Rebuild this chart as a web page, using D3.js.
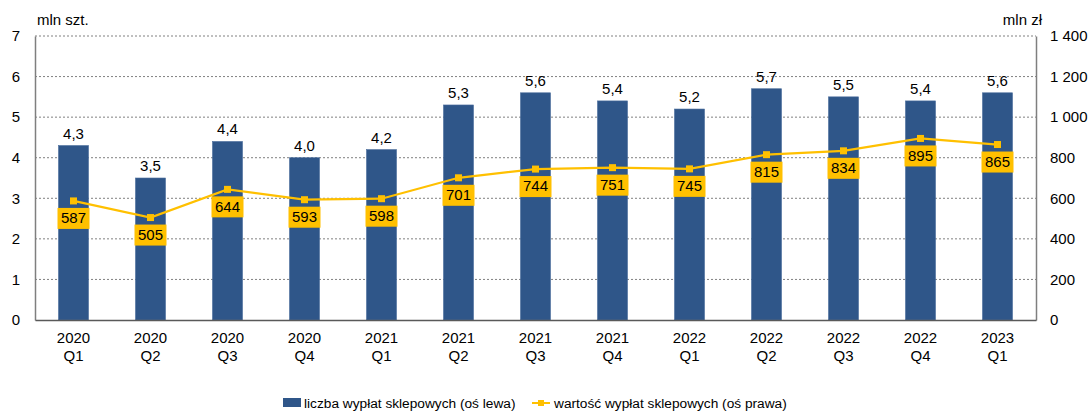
<!DOCTYPE html>
<html><head><meta charset="utf-8">
<script src="https://cdn.jsdelivr.net/npm/d3@7"></script>
<style>body{margin:0;background:#fff;}text{font-family:"Liberation Sans",Arial,sans-serif;fill:#000;}</style>
</head><body><svg id="c" width="1092" height="412"></svg>
<script>
const years = ["2020","2020","2020","2020","2021","2021","2021","2021","2022","2022","2022","2022","2023"];
const quarters = ["Q1","Q2","Q3","Q4","Q1","Q2","Q3","Q4","Q1","Q2","Q3","Q4","Q1"];
const countValues = [4.3,3.5,4.4,4.0,4.2,5.3,5.6,5.4,5.2,5.7,5.5,5.4,5.6];
const amountValues = [587,505,644,593,598,701,744,751,745,815,834,895,865];
const leftTicks = [0,1,2,3,4,5,6,7];
const rightTicks = [0,200,400,600,800,1000,1200,1400];
const legendLabels = ["liczba wypłat sklepowych (oś lewa)","wartość wypłat sklepowych (oś prawa)"];

const svg = d3.select("#c");
const L = 35, R = 1036, T = 36, B = 320;
const cats = years.map((y,i)=>i);
const x = d3.scaleBand().domain(cats).range([L,R]).paddingInner(0.61).paddingOuter(0.305);
const yL = d3.scaleLinear().domain([0,7]).range([B,T]);
const yR = d3.scaleLinear().domain([0,1400]).range([B,T]);
const blue = "#2f5689", yellow = "#ffc000";
const fmtComma = d => d.toFixed(1).replace(".",",");
const fmtSpace = d => d3.format(",")(d).replace(/,/g," ");
const FS = "15px";

// grid
svg.append("g").selectAll("line").data(leftTicks.filter(d=>d>0)).join("line")
  .attr("x1",L).attr("x2",R).attr("y1",d=>yL(d)).attr("y2",d=>yL(d))
  .attr("stroke","#808080").attr("stroke-width",1).attr("stroke-dasharray","2,2");

// left axis
const gl = svg.append("g").attr("transform",`translate(${L},0)`)
  .call(d3.axisLeft(yL).tickValues(leftTicks).tickSize(0).tickPadding(15).tickFormat(d=>d));
gl.select(".domain").attr("stroke","#7f7f7f").attr("stroke-width",1.5);
gl.selectAll("text").style("font-size",FS).attr("font-family",null);

const gr = svg.append("g").attr("transform",`translate(${R},0)`)
  .call(d3.axisRight(yR).tickValues(rightTicks).tickSize(0).tickPadding(14).tickFormat(fmtSpace));
gr.select(".domain").attr("stroke","#7f7f7f").attr("stroke-width",1.5);
gr.selectAll("text").style("font-size",FS).attr("font-family",null);

// bars
svg.append("g").selectAll("rect").data(countValues).join("rect")
  .attr("x",(d,i)=>x(i)).attr("width",x.bandwidth())
  .attr("y",d=>yL(d)).attr("height",d=>B-yL(d))
  .attr("fill",blue).attr("stroke","#4a6d9c").attr("stroke-width",0.6);

// bottom axis
const gb = svg.append("g").attr("transform",`translate(0,${B})`)
  .call(d3.axisBottom(x).tickSize(0).tickFormat(""));
gb.select(".domain").attr("stroke","#595959").attr("stroke-width",1.5);
const xl = svg.append("g").selectAll("text").data(cats).join("text")
  .attr("x",i=>x(i)+x.bandwidth()/2).attr("text-anchor","middle").style("font-size",FS);
xl.append("tspan").attr("x",i=>x(i)+x.bandwidth()/2).attr("y",343).text(i=>years[i]);
xl.append("tspan").attr("x",i=>x(i)+x.bandwidth()/2).attr("y",361).text(i=>quarters[i]);

// bar labels
svg.append("g").selectAll("text").data(countValues).join("text")
  .attr("x",(d,i)=>x(i)+x.bandwidth()/2).attr("y",d=>yL(d)-7)
  .attr("text-anchor","middle").style("font-size",FS).text(fmtComma);

// line
const cx = i => x(i)+x.bandwidth()/2;
svg.append("path").datum(amountValues)
  .attr("d",d3.line().x((d,i)=>cx(i)).y(d=>yR(d)))
  .attr("fill","none").attr("stroke",yellow).attr("stroke-width",2.2);
svg.append("g").selectAll("rect").data(amountValues).join("rect")
  .attr("x",(d,i)=>cx(i)-3.5).attr("y",d=>yR(d)-3.5).attr("width",7).attr("height",7).attr("fill",yellow);

// value boxes
const vb = svg.append("g").selectAll("g").data(amountValues).join("g")
  .attr("transform",(d,i)=>`translate(${cx(i)},${yR(d)+17})`);
vb.append("rect").attr("x",-16).attr("y",-10).attr("width",32).attr("height",21).attr("fill",yellow);
vb.append("text").attr("text-anchor","middle").attr("dy","0.36em").style("font-size",FS).text(d=>d);

// axis titles
svg.append("text").attr("x",37).attr("y",25).style("font-size","15px").text("mln szt.");
svg.append("text").attr("x",1042).attr("y",25).attr("text-anchor","end").style("font-size","15px").text("mln zł");

// legend
const lg = svg.append("g");
lg.append("rect").attr("x",283).attr("y",398).attr("width",18).attr("height",9).attr("fill",blue);
lg.append("text").attr("x",304).attr("y",408).style("font-size","13.7px").text(legendLabels[0]);
lg.append("line").attr("x1",532).attr("x2",550).attr("y1",403).attr("y2",403).attr("stroke",yellow).attr("stroke-width",2);
lg.append("rect").attr("x",538).attr("y",400).attr("width",6).attr("height",6).attr("fill",yellow);
lg.append("text").attr("x",554).attr("y",408).style("font-size","13.7px").text(legendLabels[1]);
</script></body></html>
